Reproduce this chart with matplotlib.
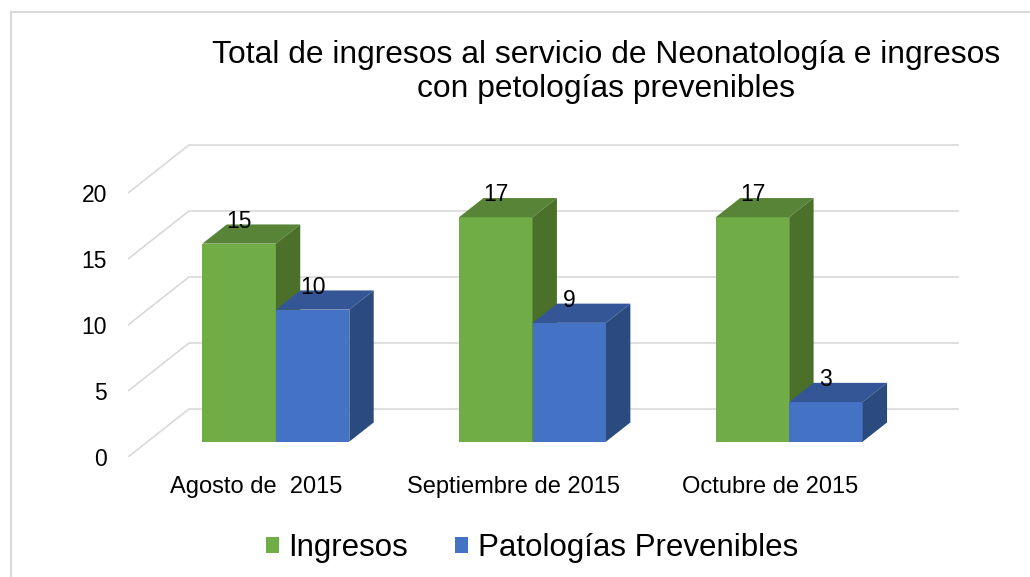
import matplotlib
matplotlib.use("Agg")
import matplotlib.pyplot as plt
from matplotlib.patches import Polygon, Patch
from matplotlib.lines import Line2D

plt.rcParams['font.family'] = ['Liberation Sans', 'DejaVu Sans']

# data
months = ["Agosto de  2015", "Septiembre de 2015", "Octubre de 2015"]
ingresos = [15, 17, 17]
prevenibles = [10, 9, 3]
series_names = ["Ingresos", "Patologías Prevenibles"]
y_ticks = [0, 5, 10, 15, 20]

# colours: front, top, side
green = ("#70ad47", "#578437", "#4a7029")
blue = ("#4472c4", "#345696", "#2b4a7d")
grid_col = "#d9d9d9"

fig = plt.figure(figsize=(10.30, 5.77), dpi=100)
W, H_px = 1030, 577

# axes placed so that front plane 0..3 / 0..20 lines up with the picture
ax = fig.add_axes([128 / W, (H_px - 457) / H_px, 831 / W, 317 / H_px])
D = 61 / 256.8       # depth shift in x (data units) for full depth
H = 48 / 13.2        # depth shift in y (data units) for full depth
ax.set_xlim(0, 3 + D)
ax.set_ylim(0, 317 / 13.2)
for s in ax.spines.values():
    s.set_visible(False)

# pseudo 3d gridlines: diagonal on the left floor + back wall line
for v in y_ticks:
    ax.plot([0, D, 3 + D], [v, v + H, v + H], color=grid_col, lw=1.2,
            zorder=1, solid_capstyle='butt')

d0 = 0.32    # bar front depth
dd = 0.40    # bar depth
bw = 73.5 / 256.8


def bar3d(x0, val, cols):
    x1 = x0 + bw
    ys = d0 * H
    ox, oy = dd * D, dd * H
    front = Polygon([(x0, ys), (x1, ys), (x1, ys + val), (x0, ys + val)],
                    closed=True, facecolor=cols[0], edgecolor='none', zorder=3)
    top = Polygon([(x0, ys + val), (x1, ys + val), (x1 + ox, ys + val + oy),
                   (x0 + ox, ys + val + oy)],
                  closed=True, facecolor=cols[1], edgecolor='none', zorder=3)
    side = Polygon([(x1, ys), (x1 + ox, ys + oy), (x1 + ox, ys + val + oy),
                    (x1, ys + val)],
                   closed=True, facecolor=cols[2], edgecolor='none', zorder=3)
    for p in (front, top, side):
        ax.add_patch(p)
    ax.text(x0 + bw / 2, ys + val + oy - 0.25, str(val), ha='center',
            va='baseline', fontsize=16.5, color='black', zorder=5)


for i in range(len(months)):
    xc = i + 0.5 + d0 * D
    bar3d(xc - bw, ingresos[i], green)
    bar3d(xc, prevenibles[i], blue)

ax.set_yticks(y_ticks)
ax.set_yticklabels([str(v) for v in y_ticks], fontsize=16.5)
ax.set_xticks([i + 0.5 for i in range(len(months))])
ax.set_xticklabels(months, fontsize=17)
ax.tick_params(axis='y', length=0, pad=15)
ax.tick_params(axis='x', length=0, pad=13.5)

# title, two lines
fig.text(606 / W, 1 - 63.3 / H_px,
         "Total de ingresos al servicio de Neonatología e ingresos",
         ha='center', va='baseline', fontsize=22.9)
fig.text(606 / W, 1 - 96.7 / H_px, "con petologías prevenibles",
         ha='center', va='baseline', fontsize=22.9)

handles = [Patch(facecolor=green[0]), Patch(facecolor=blue[0])]
fig.legend(handles, series_names, ncol=2, loc='center',
           bbox_to_anchor=(532 / W, 1 - 548 / H_px), frameon=False,
           fontsize=22.5, handlelength=0.42, handleheight=0.42,
           handletextpad=0.3, columnspacing=1.5)

# light chart border (top and left visible)
fig.add_artist(Line2D([11 / W, 11 / W], [0, 1 - 12 / H_px],
                      transform=fig.transFigure, color=grid_col, lw=1.5))
fig.add_artist(Line2D([11 / W, 1], [1 - 12 / H_px, 1 - 12 / H_px],
                      transform=fig.transFigure, color=grid_col, lw=1.5))

fig.savefig("out.png", dpi=100)
